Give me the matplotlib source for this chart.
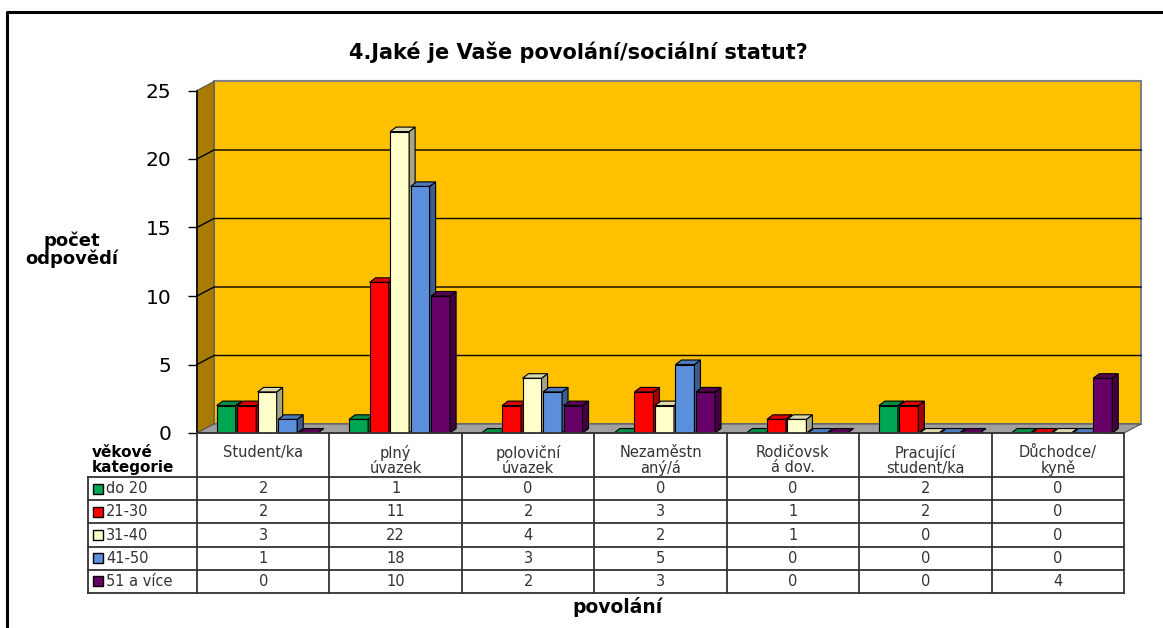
import numpy as np
import matplotlib
matplotlib.use("Agg")
import matplotlib.pyplot as plt
from matplotlib.patches import Polygon
from matplotlib.lines import Line2D
from matplotlib.colors import to_rgb

# data
categories = ["Student/ka", "plný\núvazek", "poloviční\núvazek", "Nezaměstn\naný/á",
              "Rodičovsk\ná dov.", "Pracující\nstudent/ka", "Důchodce/\nkyně"]
age_groups = ["do 20", "21-30", "31-40", "41-50", "51 a více"]
do_20 = [2, 1, 0, 0, 0, 2, 0]
age_21_30 = [2, 11, 2, 3, 1, 2, 0]
age_31_40 = [3, 22, 4, 2, 1, 0, 0]
age_41_50 = [1, 18, 3, 5, 0, 0, 0]
age_51_plus = [0, 10, 2, 3, 0, 0, 4]
series = [do_20, age_21_30, age_31_40, age_41_50, age_51_plus]
colors = ["#00a651", "#ff0000", "#ffffcc", "#5b8fdc", "#660066"]
y_ticks = [0, 5, 10, 15, 20, 25]

W, H = 1163, 628
fig = plt.figure(figsize=(W / 100, H / 100), dpi=100)


def box(l, t, r, b):
    return [l / W, 1 - b / H, (r - l) / W, (b - t) / H]


def shade(c, f):
    return tuple(np.array(to_rgb(c)) * f)


n = len(categories)
ax = fig.add_axes(box(197, 90.5, 1124, 433))
ax.set_xlim(0, n)
ax.set_ylim(0, 25)
px_x = 927 / n
px_y = 342.5 / 25
dx, dy = 17 / px_x, 9 / px_y

# back wall, side wall, floor
ax.add_patch(Polygon([(dx, dy), (n + dx, dy), (n + dx, 25 + dy), (dx, 25 + dy)],
                     closed=True, fc="#ffc000", ec="#808080", lw=1.5, clip_on=False, zorder=0))
ax.add_patch(Polygon([(0, 0), (dx, dy), (dx, 25 + dy), (0, 25)],
                     closed=True, fc="#a87c00", ec="#555555", lw=0.8, clip_on=False, zorder=0))
ax.add_patch(Polygon([(0, 0), (n, 0), (n + dx, dy), (dx, dy)],
                     closed=True, fc="#a0a0a0", ec="#555555", lw=0.8, clip_on=False, zorder=1))
for v in y_ticks[1:-1]:
    ax.plot([0, dx, n + dx], [v, v + dy, v + dy], color="black", lw=1, clip_on=False, zorder=1)

# 3d bars
bw = 19 / px_x
pitch = 20.5 / px_x
bdx, bdy = 6 / px_x, 4.5 / px_y
for i in range(n):
    for k, (vals, c) in enumerate(zip(series, colors)):
        x = i + 0.53 + (k - 2) * pitch
        v = vals[i]
        z = 2 + k
        x0, x1 = x - bw / 2, x + bw / 2
        ax.bar(x, v, width=bw, color=c, edgecolor="black", lw=0.8, zorder=z)
        ax.add_patch(Polygon([(x1, 0), (x1 + bdx, bdy), (x1 + bdx, v + bdy), (x1, v)],
                             closed=True, fc=shade(c, 0.65), ec="black", lw=0.8, zorder=z))
        ax.add_patch(Polygon([(x0, v), (x0 + bdx, v + bdy), (x1 + bdx, v + bdy), (x1, v)],
                             closed=True, fc=shade(c, 0.85), ec="black", lw=0.8, zorder=z))

for s in ["top", "right", "bottom"]:
    ax.spines[s].set_visible(False)
ax.spines["left"].set_color("black")
ax.spines["left"].set_linewidth(1.2)
ax.spines["left"].set_zorder(10)
ax.set_xticks([])
ax.set_yticks(y_ticks)
ax.tick_params(axis="y", length=6.5, width=1, pad=12, labelsize=14.5)
ax.patch.set_visible(False)

# data table under the plot
tab = fig.add_axes(box(197, 433, 1124, 593))
tab.set_xlim(0, n)
tab.set_ylim(160, 0)
tab.axis("off")
head = 44
row_h = (160 - head) / len(age_groups)
left = -109 / px_x
lc = "#333333"
for i in range(n + 1):
    tab.plot([i, i], [0, 160], color=lc, lw=1.3, clip_on=False)
tab.plot([left, left], [head, 160], color=lc, lw=1.3, clip_on=False)
tab.plot([0, n], [0, 0], color=lc, lw=1.3, clip_on=False)
for r in range(len(age_groups) + 1):
    y = head + r * row_h
    tab.plot([left, n], [y, y], color=lc, lw=1.3, clip_on=False)

for i, cat in enumerate(categories):
    tab.text(i + 0.5, 12, cat, ha="center", va="top", fontsize=10.5,
             color="#333333", linespacing=1.0)
for r, (name, vals, c) in enumerate(zip(age_groups, series, colors)):
    yc = head + (r + 0.5) * row_h
    tab.plot([-99 / px_x], [yc], marker="s", ms=7, mfc=c, mec="black", mew=1,
             clip_on=False)
    tab.text(-91 / px_x, yc, name, ha="left", va="center", fontsize=10.5, color="#333333")
    for i, v in enumerate(vals):
        tab.text(i + 0.5, yc, str(v), ha="center", va="center", fontsize=10.5, color="#333333")

# texts
fig.text(578 / W, 1 - 52 / H, "4.Jaké je Vaše povolání/sociální statut?", ha="center",
         va="center", fontsize=15, fontweight="bold")
fig.text(72 / W, 1 - 250 / H, "počet\nodpovědí", ha="center", va="center", fontsize=13,
         fontweight="bold", linespacing=1.0)
fig.text(92 / W, 1 - 460 / H, "věkové\nkategorie", ha="left", va="center", fontsize=11,
         fontweight="bold", linespacing=0.95)
fig.text(617 / W, 1 - 607 / H, "povolání", ha="center", va="center", fontsize=13.5,
         fontweight="bold")

# outer frame
fig.add_artist(Line2D([7 / W, 7 / W, 1], [0, 1 - 12 / H, 1 - 12 / H], color="black", lw=2.2,
                      transform=fig.transFigure))

fig.savefig("out.png", dpi=100)
